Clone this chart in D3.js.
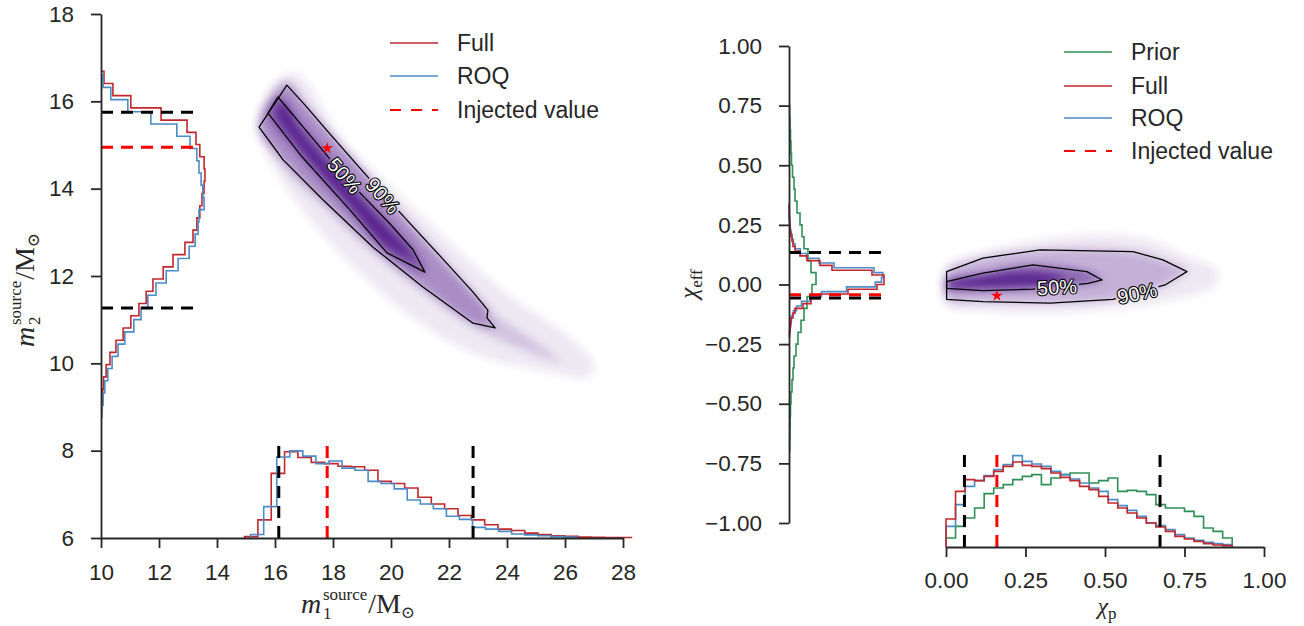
<!DOCTYPE html>
<html>
<head>
<meta charset="utf-8">
<script src="https://cdn.jsdelivr.net/npm/d3@7"></script>
<style>
body { margin: 0; background: #fff; }
svg text { font-family: "Liberation Sans", Arial, sans-serif; fill: #262626; }
</style>
</head>
<body>
<script>
/* ---- data ---- */

// left panel: marginal histograms (bin start, bin width, densities)
var m1FullLo = 14.95, m1FullW = 0.46;
var m1Full = [0.003, 0.041, 0.146, 0.195, 0.182, 0.171, 0.168, 0.162, 0.161, 0.153, 0.128, 0.123, 0.113, 0.092,
	0.077, 0.066, 0.051, 0.041, 0.030, 0.020, 0.017, 0.011, 0.008, 0.005, 0.004, 0.002, 0.0015, 0.001, 0.001];
var m1RoqLo = 15.16, m1RoqW = 0.45;
var m1Roq = [0.008, 0.071, 0.183, 0.197, 0.185, 0.168, 0.174, 0.158, 0.153, 0.128, 0.123, 0.111, 0.086, 0.077,
	0.066, 0.049, 0.042, 0.024, 0.020, 0.015, 0.009, 0.007, 0.005, 0.003, 0.002];

var m2FullLo = 8.85, m2FullW = 0.28;
var m2Full = [0.002, 0.004, 0.006, 0.012, 0.021, 0.035, 0.052, 0.070, 0.089, 0.106, 0.122, 0.146, 0.169, 0.197,
	0.216, 0.225, 0.232, 0.237, 0.242, 0.244, 0.242, 0.232, 0.223, 0.202, 0.141, 0.070, 0.028, 0.007];
var m2RoqLo = 8.76, m2RoqW = 0.28;
var m2Roq = [0.002, 0.005, 0.009, 0.016, 0.026, 0.040, 0.056, 0.077, 0.094, 0.110, 0.129, 0.153, 0.181, 0.207,
	0.221, 0.228, 0.230, 0.242, 0.239, 0.235, 0.230, 0.225, 0.209, 0.178, 0.117, 0.063, 0.023, 0.005];

// left panel: injected value and 90% bounds
var m1Inj = 17.8, m2Inj = 14.95;
var m1Bounds = [16.13, 22.83];
var m2Bounds = [11.27, 15.75];

// left panel: 2d posterior, contours as [m1, m2]
var m12Envelope = [[15.37, 15.50], [16.52, 16.64], [17.03, 16.49], [18.24, 15.19], [19.97, 14.05], [21.69, 12.98],
	[23.99, 11.60], [26.28, 10.53], [26.98, 10.00], [26.86, 9.71], [25.14, 9.85], [22.83, 10.24], [20.54, 11.15],
	[18.24, 12.53], [16.52, 13.90], [15.48, 15.11]];
var m12Mid = [[16.31, 16.53], [15.41, 15.57], [16.34, 14.47], [17.90, 13.47], [19.62, 12.41], [21.34, 11.54],
	[23.07, 10.76], [24.79, 10.26], [25.83, 10.03], [25.14, 10.42], [23.76, 11.04], [22.72, 11.68], [21.34, 12.64],
	[19.97, 13.74], [18.59, 14.77], [17.21, 15.85]];
var m12C90 = [[16.41, 16.37], [17.03, 15.92], [17.90, 15.25], [18.93, 14.47], [19.72, 13.88], [20.48, 13.33],
	[21.69, 12.46], [22.83, 11.63], [23.34, 11.22], [23.31, 11.04], [23.59, 10.81], [22.83, 10.92], [21.10, 11.75],
	[19.38, 12.66], [17.66, 13.74], [16.28, 14.66], [15.45, 15.41]];
var m12C50 = [[16.10, 16.10], [16.86, 15.50], [17.72, 14.82], [18.34, 14.31], [19.10, 13.79], [19.97, 13.19],
	[20.76, 12.60], [21.17, 12.09], [19.86, 12.53], [18.59, 13.51], [16.93, 14.73], [15.76, 15.73]];
var m12Core = [[16.28, 15.98], [16.86, 15.32], [18.34, 14.18], [19.86, 13.08], [20.83, 12.41], [19.86, 12.71],
	[18.34, 13.81], [16.86, 14.95], [16.10, 15.76]];
var m12Labels = [{ text: "50%", at: [18.40, 14.30], angle: 49 }, { text: "90%", at: [19.72, 13.84], angle: 48 }];

// right panel: marginal histograms
var chiEffFullLo = -0.22, chiEffFullW = 0.02;
var chiEffFull = [0.04, 0.08, 0.12, 0.16, 0.32, 0.48, 1.12, 1.76, 2.48, 4.72, 7.04, 7.60, 7.60, 6.64, 3.44, 2.48,
	1.44, 0.88, 0.48, 0.32, 0.24, 0.16, 0.08, 0.06, 0.04, 0.02, 0.02, 0.01];
var chiEffRoqLo = -0.21, chiEffRoqW = 0.02;
var chiEffRoq = [0.05, 0.10, 0.15, 0.20, 0.35, 0.60, 1.00, 1.70, 2.60, 4.60, 6.90, 7.40, 7.50, 6.80, 3.60, 2.40,
	1.40, 0.90, 0.50, 0.35, 0.25, 0.15, 0.10, 0.06, 0.04, 0.02, 0.01];
var chiEffPriorLo = -0.70, chiEffPriorW = 0.05;
var chiEffPrior = [0.06, 0.08, 0.10, 0.12, 0.16, 0.24, 0.32, 0.40, 0.56, 0.72, 0.96, 1.20, 1.44, 1.84, 2.16, 1.76,
	1.52, 1.20, 1.04, 0.88, 0.64, 0.48, 0.40, 0.28, 0.20, 0.16, 0.12, 0.08, 0.05];

var chiPLo = 0, chiPW = 0.03;
var chiPFull = [0.84, 1.67, 2.02, 1.99, 2.12, 2.27, 2.42, 2.55, 2.45, 2.42, 2.35, 2.22, 2.09, 1.99, 1.82, 1.72,
	1.52, 1.32, 1.17, 1.02, 0.87, 0.72, 0.60, 0.47, 0.32, 0.24, 0.17, 0.10, 0.06, 0.04];
var chiPRoq = [0.62, 1.27, 1.82, 1.99, 2.14, 2.32, 2.47, 2.74, 2.57, 2.49, 2.42, 2.27, 2.17, 2.04, 1.92, 1.77,
	1.67, 1.42, 1.24, 1.10, 0.92, 0.72, 0.64, 0.52, 0.37, 0.27, 0.20, 0.14, 0.10, 0.07];
var chiPPrior = [0.27, 0.62, 0.87, 1.17, 1.60, 1.77, 1.87, 2.02, 2.12, 2.17, 1.87, 2.07, 2.17, 2.22, 2.22, 1.92,
	1.99, 2.07, 1.67, 1.70, 1.67, 1.57, 1.27, 1.17, 1.17, 1.07, 0.92, 0.57, 0.47, 0.27];

var chiPInj = 0.16, chiEffInj = -0.043;
var chiPBounds = [0.058, 0.673];
var chiEffBounds = [-0.057, 0.134];

// right panel: 2d posterior, contours as [chi_p, chi_eff]
var chiEnvelope = [[0.00, 0.082], [0.00, -0.086], [0.138, -0.111], [0.358, -0.115], [0.579, -0.094], [0.704, -0.065],
	[0.846, -0.002], [0.852, 0.061], [0.767, 0.111], [0.642, 0.187], [0.484, 0.208], [0.296, 0.187], [0.138, 0.145],
	[0.013, 0.094]];
var chiC90 = [[0.002, 0.054], [0.116, 0.111], [0.296, 0.145], [0.588, 0.138], [0.682, 0.103], [0.758, 0.054],
	[0.714, 0.019], [0.689, -0.002], [0.525, -0.062], [0.327, -0.078], [0.116, -0.072], [0.002, -0.062]];
var chiC50 = [[0.002, 0.012], [0.116, 0.048], [0.274, 0.082], [0.443, 0.054], [0.491, 0.019], [0.447, 0.005],
	[0.274, -0.019], [0.116, -0.026], [0.002, -0.016]];
var chiCore = [[0.003, 0.010], [0.107, 0.036], [0.233, 0.052], [0.327, 0.044], [0.374, 0.019], [0.327, -0.002],
	[0.233, -0.010], [0.107, -0.015], [0.003, -0.010]];
var chiLabels = [{ text: "50%", at: [0.349, -0.010], angle: -3 }, { text: "90%", at: [0.601, -0.036], angle: -12 }];

var m1Ticks = [10, 12, 14, 16, 18, 20, 22, 24, 26, 28];
var m2Ticks = [6, 8, 10, 12, 14, 16, 18];
var chiTicks = [0, 0.25, 0.5, 0.75, 1];
var chiEffTicks = [-1, -0.75, -0.5, -0.25, 0, 0.25, 0.5, 0.75, 1];

var leftLegend = [
	{ label: "Full", color: "#c1272d", dash: null },
	{ label: "ROQ", color: "#4b8bc8", dash: null },
	{ label: "Injected value", color: "#ff0000", dash: "11,10" }
];
var rightLegend = [
	{ label: "Prior", color: "#2e8f57", dash: null },
	{ label: "Full", color: "#c1272d", dash: null },
	{ label: "ROQ", color: "#4b8bc8", dash: null },
	{ label: "Injected value", color: "#ff0000", dash: "11,10" }
];

var RED = "#c1272d", BLUE = "#4b8bc8", GREEN = "#2e8f57", PURPLE = "#3f007d", INK = "#262626";

/* ---- svg ---- */
var width = 1304, height = 626;
var svg = d3.select("body").append("svg")
	.attr("width", width)
	.attr("height", height);

var defs = svg.append("defs");
defs.append("filter")
	.attr("id", "soft")
	.attr("x", "-20%").attr("y", "-20%").attr("width", "140%").attr("height", "140%")
	.append("feGaussianBlur")
	.attr("stdDeviation", 4.5);

// scales
var xM1 = d3.scaleLinear().domain([10, 28]).range([101, 623]);
var yM2 = d3.scaleLinear().domain([6, 18]).range([538, 14]);
var hM1 = d3.scaleLinear().domain([0, 0.2]).range([0, 88.5]);
var hM2 = d3.scaleLinear().domain([0, 0.25]).range([0, 106.5]);

var xChiP = d3.scaleLinear().domain([0, 1]).range([946, 1264]);
var yChiE = d3.scaleLinear().domain([-1, 1]).range([523, 46]);
var hChiP = d3.scaleLinear().domain([0, 3]).range([0, 100]);
var hChiE = d3.scaleLinear().domain([0, 8]).range([0, 100]);

var leftBase = 538, rightBase = 547, rightSpine = 789;

/* ---- helpers ---- */

// histogram standing on the bottom spine
function histUp(g, lo, w, vals, xS, hS, baseY, color) {
	var pts = [[xS(lo), baseY]];
	vals.forEach(function (v, i) {
		pts.push([xS(lo + i * w), baseY - hS(v)]);
		pts.push([xS(lo + (i + 1) * w), baseY - hS(v)]);
	});
	pts.push([xS(lo + vals.length * w), baseY]);
	g.append("path")
		.attr("d", d3.line()(pts))
		.attr("fill", "none")
		.attr("stroke", color)
		.attr("stroke-width", 1.6);
}

// histogram leaning on the left spine
function histSide(g, lo, w, vals, yS, hS, baseX, color) {
	var pts = [[baseX, yS(lo)]];
	vals.forEach(function (v, i) {
		pts.push([baseX + hS(v), yS(lo + i * w)]);
		pts.push([baseX + hS(v), yS(lo + (i + 1) * w)]);
	});
	pts.push([baseX, yS(lo + vals.length * w)]);
	g.append("path")
		.attr("d", d3.line()(pts))
		.attr("fill", "none")
		.attr("stroke", color)
		.attr("stroke-width", 1.6);
}

function density(xS, yS, levels) {
	var line = d3.line()
		.x(function (d) { return xS(d[0]); })
		.y(function (d) { return yS(d[1]); })
		.curve(d3.curveCatmullRomClosed.alpha(0.5));
	var g = svg.append("g").attr("filter", "url(#soft)");
	levels.forEach(function (lv) {
		g.append("path")
			.attr("d", line(lv.poly))
			.attr("fill", PURPLE)
			.attr("fill-opacity", lv.op);
	});
}

function contours(id, xS, yS, polys, labels) {
	var line = d3.line()
		.x(function (d) { return xS(d[0]); })
		.y(function (d) { return yS(d[1]); })
		.curve(d3.curveLinearClosed);

	// hide the line under each label, like inline clabel
	var mask = defs.append("mask")
		.attr("id", id)
		.attr("maskUnits", "userSpaceOnUse")
		.attr("x", 0).attr("y", 0).attr("width", width).attr("height", height);
	mask.append("rect").attr("width", width).attr("height", height).attr("fill", "#fff");
	labels.forEach(function (l) {
		mask.append("rect")
			.attr("x", -22).attr("y", -9).attr("width", 44).attr("height", 18)
			.attr("transform", "translate(" + xS(l.at[0]) + "," + yS(l.at[1]) + ") rotate(" + l.angle + ")")
			.attr("fill", "#000");
	});

	var g = svg.append("g").attr("mask", "url(#" + id + ")");
	polys.forEach(function (p) {
		g.append("path")
			.attr("d", line(p))
			.attr("fill", "none")
			.attr("stroke", "#000")
			.attr("stroke-width", 1.3)
			.attr("stroke-linejoin", "round");
	});

	labels.forEach(function (l) {
		svg.append("text")
			.attr("transform", "translate(" + xS(l.at[0]) + "," + yS(l.at[1]) + ") rotate(" + l.angle + ")")
			.attr("text-anchor", "middle")
			.attr("dy", "0.36em")
			.attr("font-size", 20)
			.style("fill", "#fff")
			.style("stroke", "#000")
			.style("stroke-width", 2.2)
			.style("stroke-linejoin", "round")
			.style("paint-order", "stroke")
			.text(l.text);
	});
}

function star(xv, yv) {
	svg.append("path")
		.attr("d", d3.symbol(d3.symbolStar, 42)())
		.attr("transform", "translate(" + xv + "," + yv + ")")
		.attr("fill", "#ff0000");
}

function dashV(x, baseY, len, color) {
	svg.append("line")
		.attr("x1", x).attr("x2", x)
		.attr("y1", baseY).attr("y2", baseY - len)
		.attr("stroke", color)
		.attr("stroke-width", 3)
		.attr("stroke-dasharray", "12,8");
}

function dashH(y, baseX, len, color) {
	svg.append("line")
		.attr("x1", baseX).attr("x2", baseX + len)
		.attr("y1", y).attr("y2", y)
		.attr("stroke", color)
		.attr("stroke-width", 3)
		.attr("stroke-dasharray", "12,8");
}

function styleAxis(g) {
	g.attr("font-family", null).attr("font-size", null);
	g.select(".domain").attr("stroke", INK).attr("stroke-width", 1.8);
	g.selectAll(".tick line").attr("stroke", INK).attr("stroke-width", 1.8);
	g.selectAll(".tick text").attr("font-size", 22.5).style("fill", INK);
}

function legend(items, x0, ys) {
	items.forEach(function (it, i) {
		svg.append("line")
			.attr("x1", x0).attr("x2", x0 + 48)
			.attr("y1", ys[i]).attr("y2", ys[i])
			.attr("stroke", it.color)
			.attr("stroke-width", it.dash ? 2 : 1.6)
			.attr("stroke-dasharray", it.dash);
		svg.append("text")
			.attr("x", x0 + 67)
			.attr("y", ys[i])
			.attr("dy", "0.35em")
			.attr("font-size", 23)
			.text(it.label);
	});
}

/* ---- left panel: m1 / m2 ---- */

density(xM1, yM2, [
	{ poly: m12Envelope, op: 0.09 },
	{ poly: m12Mid, op: 0.16 },
	{ poly: m12C90, op: 0.28 },
	{ poly: m12C50, op: 0.42 },
	{ poly: m12Core, op: 0.6 }
]);
contours("c1", xM1, yM2, [m12C90, m12C50], m12Labels);
star(xM1(m1Inj), yM2(m2Inj) + 1);

var histL = svg.append("g");
histUp(histL, m1FullLo, m1FullW, m1Full, xM1, hM1, leftBase, RED);
histUp(histL, m1RoqLo, m1RoqW, m1Roq, xM1, hM1, leftBase, BLUE);
histSide(histL, m2FullLo, m2FullW, m2Full, yM2, hM2, 101, RED);
histSide(histL, m2RoqLo, m2RoqW, m2Roq, yM2, hM2, 101, BLUE);

m1Bounds.forEach(function (v) { dashV(xM1(v), leftBase, hM1(0.222), "#000"); });
dashV(xM1(m1Inj), leftBase, hM1(0.222), "#ff0000");
m2Bounds.forEach(function (v) { dashH(yM2(v), 101, hM2(0.228), "#000"); });
dashH(yM2(m2Inj), 101, hM2(0.228), "#ff0000");

var gx1 = svg.append("g")
	.attr("transform", "translate(0," + leftBase + ")")
	.call(d3.axisBottom(xM1).tickValues(m1Ticks).tickSize(10).tickSizeOuter(0).tickPadding(16));
styleAxis(gx1);
var gy1 = svg.append("g")
	.attr("transform", "translate(101,0)")
	.call(d3.axisLeft(yM2).tickValues(m2Ticks).tickSize(10).tickSizeOuter(0).tickPadding(17));
styleAxis(gy1);

/* ---- right panel: chi_p / chi_eff ---- */

density(xChiP, yChiE, [
	{ poly: chiEnvelope, op: 0.09 },
	{ poly: chiC90, op: 0.24 },
	{ poly: chiC50, op: 0.42 },
	{ poly: chiCore, op: 0.6 }
]);
contours("c2", xChiP, yChiE, [chiC90, chiC50], chiLabels);
star(xChiP(chiPInj), yChiE(chiEffInj) + 1);

var histR = svg.append("g");
histUp(histR, chiPLo, chiPW, chiPPrior, xChiP, hChiP, rightBase, GREEN);
histUp(histR, chiPLo, chiPW, chiPRoq, xChiP, hChiP, rightBase, BLUE);
histUp(histR, chiPLo, chiPW, chiPFull, xChiP, hChiP, rightBase, RED);
histSide(histR, chiEffPriorLo, chiEffPriorW, chiEffPrior, yChiE, hChiE, rightSpine, GREEN);
histSide(histR, chiEffRoqLo, chiEffRoqW, chiEffRoq, yChiE, hChiE, rightSpine, BLUE);
histSide(histR, chiEffFullLo, chiEffFullW, chiEffFull, yChiE, hChiE, rightSpine, RED);

chiPBounds.forEach(function (v) { dashV(xChiP(v), rightBase, hChiP(2.9), "#000"); });
dashV(xChiP(chiPInj), rightBase, hChiP(2.9), "#ff0000");
chiEffBounds.forEach(function (v) { dashH(yChiE(v), rightSpine, hChiE(7.7), "#000"); });
dashH(yChiE(chiEffInj), rightSpine, hChiE(7.7), "#ff0000");

var gx2 = svg.append("g")
	.attr("transform", "translate(0," + rightBase + ")")
	.call(d3.axisBottom(xChiP).tickValues(chiTicks).tickFormat(d3.format(".2f")).tickSize(10).tickSizeOuter(0).tickPadding(15));
styleAxis(gx2);
var gy2 = svg.append("g")
	.attr("transform", "translate(" + rightSpine + ",0)")
	.call(d3.axisLeft(yChiE).tickValues(chiEffTicks).tickFormat(d3.format(".2f")).tickSize(10).tickSizeOuter(0).tickPadding(17));
styleAxis(gy2);

/* ---- axis labels (math style) ---- */
var serif = "'Liberation Serif', 'DejaVu Serif', serif";

// m_i^source / M_sun : main glyphs in one text, the stacked script in two small texts
function massLabel(g, idx) {
	var main = g.append("text").attr("text-anchor", "middle").style("font-family", serif).attr("font-size", 28);
	main.append("tspan").attr("font-style", "italic").text("m");
	main.append("tspan").attr("dx", 47).text("/M");
	main.append("tspan").attr("font-size", 17).attr("dy", 5).text("\u2299");
	var bb = main.node().getBBox();
	var xs = bb.x + 22;
	g.append("text").attr("x", xs).attr("y", 6).style("font-family", serif).attr("font-size", 17).text(idx);
	g.append("text").attr("x", xs).attr("y", -13).style("font-family", serif).attr("font-size", 17).text("source");
}

massLabel(svg.append("g").attr("transform", "translate(358,613)"), "1");
massLabel(svg.append("g").attr("transform", "translate(34,290) rotate(-90)"), "2");

var chiP = svg.append("text").attr("x", 1107).attr("y", 614).attr("text-anchor", "middle").style("font-family", serif);
chiP.append("tspan").attr("font-size", 24).attr("font-style", "italic").text("\u03c7");
chiP.append("tspan").attr("font-size", 17).attr("dy", 5).text("p");

var chiE = svg.append("text").attr("transform", "translate(697,284) rotate(-90)").attr("text-anchor", "middle").style("font-family", serif);
chiE.append("tspan").attr("font-size", 25).attr("font-style", "italic").text("\u03c7");
chiE.append("tspan").attr("font-size", 17).attr("dy", 5).text("eff");

/* ---- legends ---- */
legend(leftLegend, 390, [43, 76, 110]);
legend(rightLegend, 1064, [52, 86, 118, 151]);
</script>
</body>
</html>
